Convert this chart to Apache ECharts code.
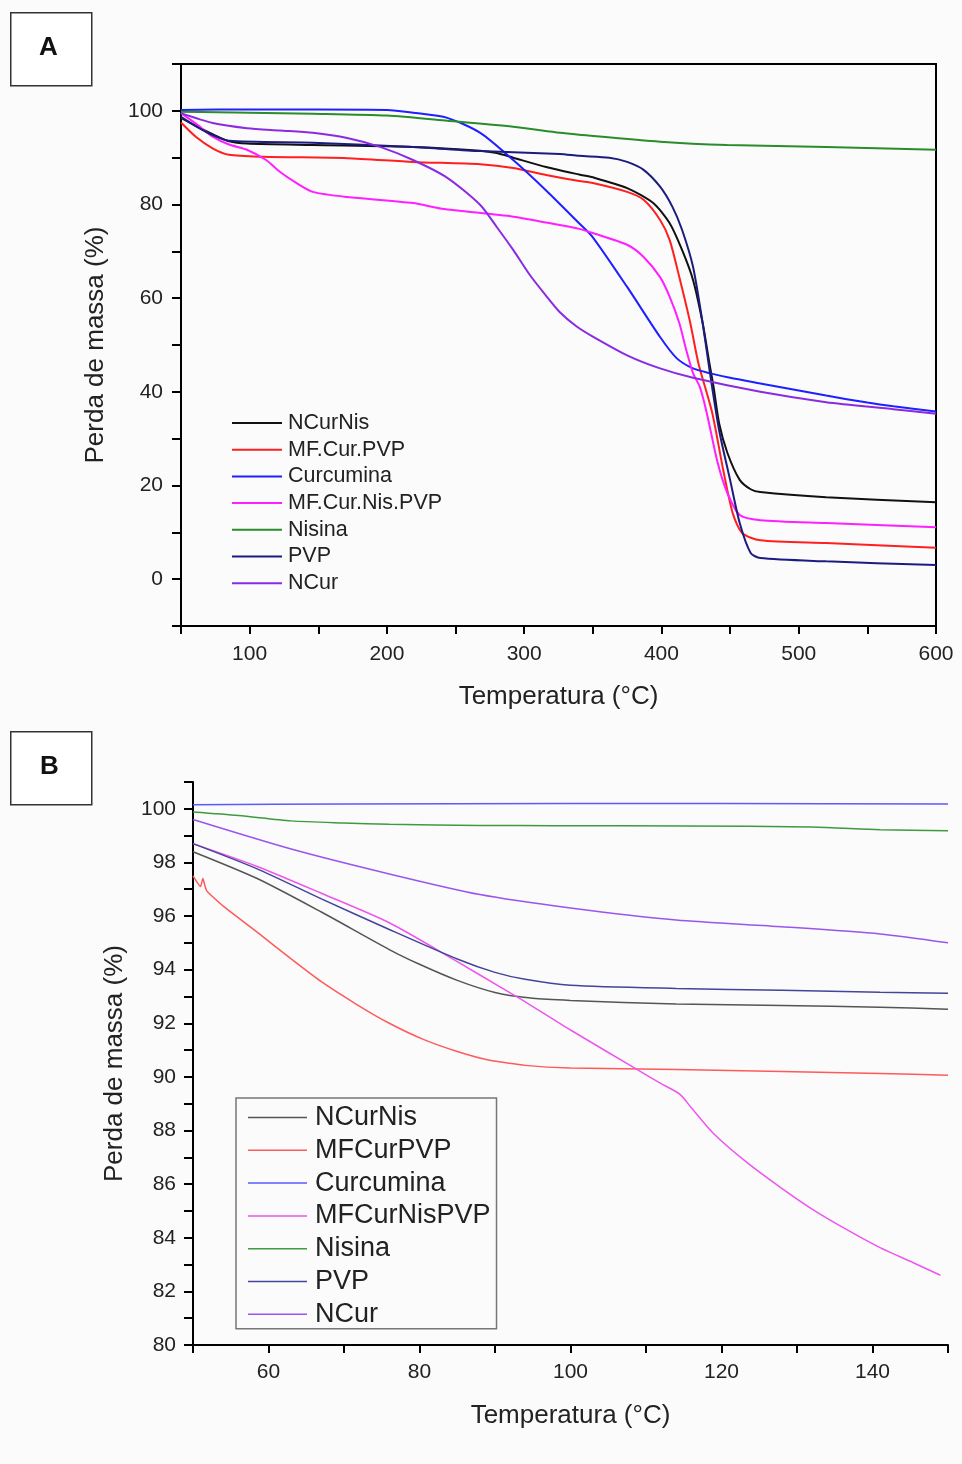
<!DOCTYPE html>
<html>
<head>
<meta charset="utf-8">
<script src="https://cdn.jsdelivr.net/npm/echarts@6/dist/echarts.min.js"></script>
<style>
html,body{margin:0;padding:0;background:#fbfbfb;}
#chart{width:962px;height:1464px;}
</style>
</head>
<body>
<div id="chart"></div>
<script>
// ---------- Panel A (50–600 °C) : [temperature, mass %] ----------
const namesA = ['NCurNis','MF.Cur.PVP','Curcumina','MF.Cur.Nis.PVP','Nisina','PVP','NCur'];
const A_NCurNis = [[50,98.5],[62,96.6],[73,95.0],[85,93.5],[98,93.0],[146,92.7],[219,92.3],[268,91.5],[280,91],[292,90],[316,88],[340,86.4],[350,85.8],[375,83.5],[394,80.3],[406,76],[415,70.3],[423,63.9],[430,54.7],[435,46],[438,41],[442,33.3],[448,27],[457,21.2],[465,19.2],[472,18.6],[520,17.5],[600,16.4]];
const A_MFCurPVP = [[50,97.5],[61,94.4],[73,92],[85,90.6],[110,90.2],[171,89.9],[219,89.1],[268,88.6],[292,87.8],[316,86.3],[340,85],[350,84.6],[375,82.7],[387,81],[399,76.7],[406,72.4],[413,64.5],[421,54.7],[427,46],[437,35.5],[445,23.3],[452,14],[459,9.8],[472,8.3],[520,7.7],[600,6.7]];
const A_Curcumina = [[50,100.2],[100,100.3],[150,100.3],[200,100.2],[219,99.6],[244,98.5],[268,95.3],[292,89.5],[316,83],[340,76],[350,73],[375,62.4],[399,51.7],[411,47.2],[423,45],[435,44],[450,43],[472,41.8],[496,40.5],[520,39.2],[550,37.7],[569,36.9],[600,35.8]];
const A_MFCurNisPVP = [[50,99.5],[62,97],[73,94.5],[85,92.8],[98,91.7],[112,89.5],[122,87],[134,84.6],[146,82.7],[171,81.6],[219,80.3],[240,79.1],[292,77.4],[326,75.6],[340,74.8],[350,73.9],[375,71.4],[387,68.8],[399,64.5],[406,60.3],[413,54.7],[418,49],[423,44],[428,41],[433,35.5],[441,24.8],[448,18.4],[457,13.7],[472,12.6],[520,12],[600,11.1]];
const A_Nisina = [[50,99.8],[100,99.6],[146,99.4],[200,99],[244,97.9],[292,96.6],[326,95.3],[340,94.9],[399,93.4],[448,92.7],[520,92.3],[600,91.7]];
const A_PVP = [[50,98.7],[62,96.5],[73,94.8],[85,93.6],[146,93.2],[219,92.3],[268,91.4],[326,90.8],[340,90.4],[362,90],[375,89.1],[387,87.4],[399,83.8],[408,79.5],[415,74.6],[423,66.7],[430,54.7],[435,44.7],[442,31.8],[450,21.2],[457,12],[465,5.6],[472,4.5],[520,3.8],[600,3]];
const A_NCur = [[50,99.5],[73,97.4],[98,96.3],[122,95.8],[146,95.3],[171,94.2],[195,92.3],[219,89.5],[244,85.7],[268,79.9],[280,75.2],[292,70.3],[304,65],[316,60.5],[326,57],[338,54],[350,51.8],[375,47.8],[399,45],[423,43],[472,40],[520,37.8],[569,36.3],[600,35.3]];

// ---------- Panel B (50–150 °C) ----------
const namesB = ['NCurNis','MFCurPVP','Curcumina','MFCurNisPVP','Nisina','PVP','NCur'];
const B_NCurNis = [[50,98.4],[58.5,97.4],[67,96.15],[76,94.75],[80,94.2],[85,93.6],[90,93.15],[95,92.93],[100,92.85],[114,92.72],[128,92.66],[141,92.6],[150,92.52]];
const B_MFCurPVP = [[50,97.5],[51,97.1],[51.3,97.4],[51.8,96.95],[54,96.37],[58.5,95.4],[63,94.4],[67,93.55],[71.7,92.7],[76,92.0],[80.5,91.4],[85,90.95],[89.3,90.62],[94,90.43],[100,90.33],[114,90.28],[128,90.2],[141,90.13],[150,90.06]];
const B_Curcumina = [[50,100.15],[70,100.18],[100,100.2],[120,100.2],[150,100.18]];
const B_MFCurNisPVP = [[50,98.7],[58.5,97.85],[67,96.85],[76,95.75],[85,94.3],[91,93.3],[94,92.8],[100,91.75],[108.8,90.28],[112,89.75],[114.5,89.35],[116,88.85],[118.9,87.9],[123.4,86.8],[127.7,85.9],[132.1,85.05],[136.6,84.3],[141,83.63],[145.4,83.07],[149,82.6]];
const B_Nisina = [[50,99.88],[56,99.75],[63,99.55],[70,99.47],[76,99.42],[88,99.38],[98,99.37],[115,99.36],[132,99.32],[141,99.22],[150,99.18]];
const B_PVP = [[50,98.7],[58.5,97.76],[67,96.64],[76,95.5],[85,94.4],[90,93.9],[94,93.64],[100,93.42],[114,93.3],[128,93.23],[141,93.16],[150,93.12]];
const B_NCur = [[50,99.6],[63,98.5],[76,97.57],[88,96.8],[100,96.3],[114,95.85],[128,95.6],[141,95.33],[150,95.0]];

const colorsA = ['#111111','#ff1f1f','#1f1fff','#ff1fff','#2a8c2a','#1c1c80','#8a2be2'];
const colorsB = ['#555555','#ff5a5a','#5a5aff','#ee55ee','#3f9a3f','#44449a','#9955ee'];

const dataA = [A_NCurNis, A_MFCurPVP, A_Curcumina, A_MFCurNisPVP, A_Nisina, A_PVP, A_NCur];
const dataB = [B_NCurNis, B_MFCurPVP, B_Curcumina, B_MFCurNisPVP, B_Nisina, B_PVP, B_NCur];

const FONT = '"Liberation Sans", Arial, sans-serif';
const chart = echarts.init(document.getElementById('chart'), null, {renderer:'canvas'});

const series = [];
namesA.forEach((n,i)=>series.push({
  name:n, type:'line', xAxisIndex:0, yAxisIndex:0, data:dataA[i], showSymbol:false, symbol:'none',
  smooth:0.25, lineStyle:{width:2, color:colorsA[i]}, itemStyle:{color:colorsA[i]}, z:3
}));
namesB.forEach((n,i)=>series.push({
  name:n, type:'line', xAxisIndex:1, yAxisIndex:1, data:dataB[i], showSymbol:false, symbol:'none',
  smooth:(i===1?0.15:0.25), lineStyle:{width:1.5, color:colorsB[i]}, itemStyle:{color:colorsB[i]}, z:3
}));

const axisLineStyle = {onZero:false, lineStyle:{color:'#000', width:2}};
const labelStyle = {color:'#222', fontSize:21, fontFamily:FONT};
const nameStyle = {color:'#222', fontSize:26, fontFamily:FONT};

chart.setOption({
  backgroundColor:'#fbfbfb',
  animation:false,
  grid:[
    {left:181, top:64, right:26, bottom:838, show:true, borderColor:'#000', borderWidth:2, backgroundColor:'transparent'},
    {left:193, top:782, right:14, bottom:119, show:false}
  ],
  xAxis:[
    {gridIndex:0, type:'value', min:50, max:600, interval:50,
     name:'Temperatura (°C)', nameLocation:'middle', nameGap:58, nameTextStyle:nameStyle,
     axisLine:axisLineStyle, axisTick:{inside:false, length:8, lineStyle:{color:'#000', width:2}},
     axisLabel:Object.assign({margin:18, formatter:v=>v%100===0?String(v):''}, labelStyle),
     splitLine:{show:false}},
    {gridIndex:1, type:'value', min:50, max:150, interval:10,
     name:'Temperatura (°C)', nameLocation:'middle', nameGap:58, nameTextStyle:nameStyle,
     axisLine:axisLineStyle, axisTick:{inside:false, length:8, lineStyle:{color:'#000', width:2}},
     axisLabel:Object.assign({margin:17, formatter:v=>v%20===0?String(v):''}, labelStyle),
     splitLine:{show:false}}
  ],
  yAxis:[
    {gridIndex:0, type:'value', min:-10, max:110, interval:10,
     name:'Perda de massa (%)', nameLocation:'middle', nameGap:72, nameRotate:90, nameTextStyle:nameStyle,
     axisLine:axisLineStyle, axisTick:{inside:false, length:9, lineStyle:{color:'#000', width:2}},
     axisLabel:Object.assign({margin:18, formatter:v=>(v%20===0&&v>=0&&v<=100)?String(v):''}, labelStyle),
     splitLine:{show:false}},
    {gridIndex:1, type:'value', min:80, max:101, interval:1,
     name:'Perda de massa (%)', nameLocation:'middle', nameGap:65, nameRotate:90, nameTextStyle:nameStyle,
     axisLine:axisLineStyle, axisTick:{inside:false, length:9, lineStyle:{color:'#000', width:2}},
     axisLabel:Object.assign({margin:17, formatter:v=>(v%2===0&&v<=100)?String(v):''}, labelStyle),
     splitLine:{show:false}}
  ],
  legend:[
    {orient:'vertical', left:232, top:412, padding:0, itemGap:4.7, itemWidth:50, itemHeight:2, icon:'rect',
     textStyle:{color:'#222', fontSize:21.5, fontFamily:FONT, lineHeight:20, padding:[0,0,0,1]},
     data:namesA.map((n,i)=>({name:n, itemStyle:{color:colorsA[i]}})),
     selectedMode:false},
    {orient:'vertical', left:236, top:1098, padding:[6,6,1,12], itemGap:5.8, itemWidth:59, itemHeight:1.5, icon:'rect',
     borderColor:'#777', borderWidth:1.5, backgroundColor:'transparent',
     textStyle:{color:'#222', fontSize:27, fontFamily:FONT, lineHeight:26, padding:[0,0,0,3]},
     data:namesB.map((n,i)=>({name:n, itemStyle:{color:colorsB[i]}})),
     selectedMode:false}
  ],
  graphic:[
    {type:'rect', left:10, top:12, shape:{width:81, height:73}, style:{fill:'#fff', stroke:'#333', lineWidth:1.5}},
    {type:'text', left:39, top:35, style:{text:'A', fontSize:26, fontWeight:'bold', fontFamily:FONT, fill:'#111'}},
    {type:'rect', left:10, top:731, shape:{width:81, height:73}, style:{fill:'#fff', stroke:'#333', lineWidth:1.5}},
    {type:'text', left:40, top:754, style:{text:'B', fontSize:26, fontWeight:'bold', fontFamily:FONT, fill:'#111'}}
  ],
  series:series
});
</script>
</body>
</html>
